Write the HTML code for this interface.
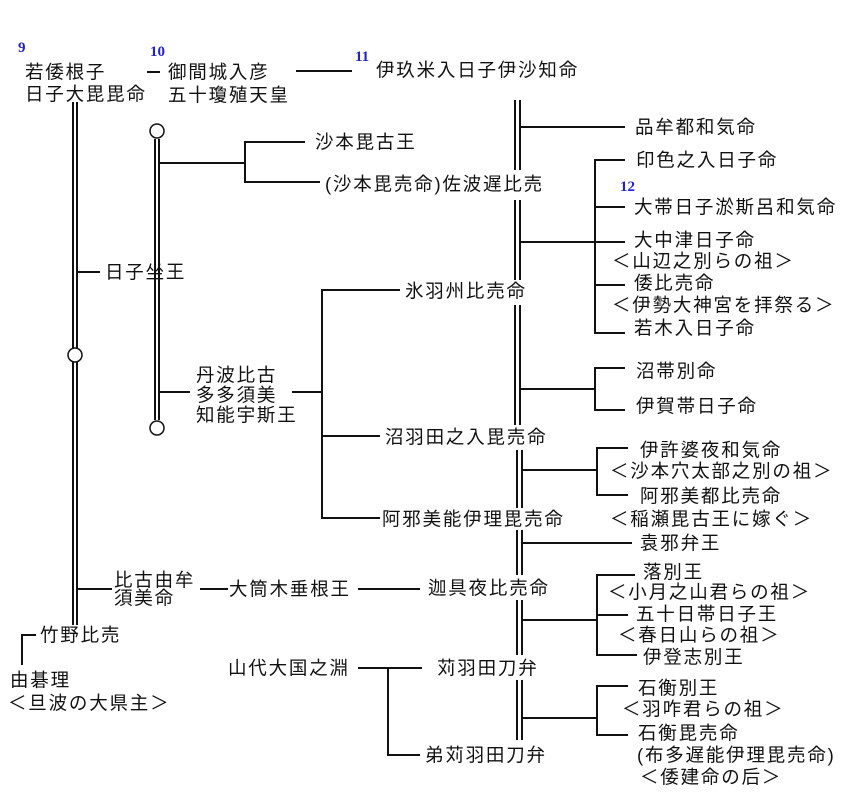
<!DOCTYPE html>
<html><head><meta charset="utf-8"><style>
html,body{margin:0;padding:0;background:#fff;}
svg{display:block}
text{font-family:"Liberation Sans","Noto Sans CJK JP",sans-serif;font-size:18.5px;fill:#111;dominant-baseline:central;letter-spacing:1.8px}
.n{font-family:"Liberation Serif",serif;font-size:15px;fill:#2222cc;font-weight:bold;letter-spacing:0}
line,polyline{stroke:#111;stroke-width:2;fill:none}
circle{stroke:#111;stroke-width:1.5;fill:#fff}
</style></head><body>
<svg width="867" height="804" viewBox="0 0 867 804">
<text class="n" x="18" y="48">9</text>
<text x="25" y="72">若倭根子</text>
<text x="25" y="94">日子大毘毘命</text>
<text class="n" x="150" y="52">10</text>
<line x1="147" y1="72" x2="160" y2="72"/>
<text x="168" y="72">御間城入彦</text>
<text x="168" y="95">五十瓊殖天皇</text>
<line x1="296" y1="71" x2="352" y2="71"/>
<text class="n" x="355" y="57">11</text>
<text x="376" y="70">伊玖米入日子伊沙知命</text>

<line x1="73" y1="102" x2="73" y2="348"/><line x1="77" y1="102" x2="77" y2="348"/>
<circle cx="75" cy="355" r="7"/>
<line x1="73" y1="362" x2="73" y2="625"/><line x1="77" y1="362" x2="77" y2="625"/>
<line x1="77" y1="272" x2="100" y2="272"/>
<text x="105" y="272">日子坐王</text>
<line x1="77" y1="589" x2="112" y2="589"/>
<text x="114" y="580">比古由牟</text>
<text x="114" y="598">須美命</text>
<line x1="200" y1="589" x2="228" y2="589"/>
<text x="229" y="589">大筒木垂根王</text>
<line x1="358" y1="589" x2="420" y2="589"/>
<text x="428" y="588">迦具夜比売命</text>

<polyline points="36,635 22,635 22,665"/>
<text x="40" y="635">竹野比売</text>
<text x="10" y="680">由碁理</text>
<text x="8" y="703">＜旦波の大県主＞</text>

<circle cx="157" cy="131" r="7"/>
<line x1="155" y1="139" x2="155" y2="420"/><line x1="159" y1="139" x2="159" y2="420"/>
<circle cx="157" cy="428" r="7"/>
<line x1="159" y1="163" x2="245" y2="163"/>
<polyline points="305,142 245,142 245,182 320,182"/>
<text x="315" y="142">沙本毘古王</text>
<text x="325" y="184">(沙本毘売命)佐波遅比売</text>
<line x1="159" y1="392" x2="190" y2="392"/>
<text x="196" y="375">丹波比古</text>
<text x="196" y="395">多多須美</text>
<text x="196" y="415">知能宇斯王</text>
<line x1="292" y1="392" x2="322" y2="392"/>
<polyline points="400,290 322,290 322,518 380,518"/>
<line x1="322" y1="436" x2="380" y2="436"/>
<text x="405" y="291">氷羽州比売命</text>
<text x="385" y="437">沼羽田之入毘売命</text>
<text x="382" y="519">阿邪美能伊理毘売命</text>

<g>
<line x1="515" y1="100" x2="515" y2="170"/><line x1="520" y1="100" x2="520" y2="170"/>
<line x1="515" y1="200" x2="515" y2="280"/><line x1="520" y1="200" x2="520" y2="280"/>
<line x1="515" y1="305" x2="515" y2="425"/><line x1="520" y1="305" x2="520" y2="425"/>
<line x1="517" y1="450" x2="517" y2="508"/><line x1="522" y1="450" x2="522" y2="508"/>
<line x1="517" y1="530" x2="517" y2="575"/><line x1="522" y1="530" x2="522" y2="575"/>
<line x1="517" y1="600" x2="517" y2="655"/><line x1="522" y1="600" x2="522" y2="655"/>
<line x1="517" y1="680" x2="517" y2="740"/><line x1="522" y1="680" x2="522" y2="740"/>
</g>
<line x1="520" y1="127" x2="625" y2="127"/>
<text x="635" y="127">品牟都和気命</text>
<line x1="520" y1="242" x2="595" y2="242"/>
<polyline points="625,160 595,160 595,333 625,333"/>
<line x1="595" y1="207" x2="625" y2="207"/>
<line x1="595" y1="242" x2="625" y2="242"/>
<line x1="595" y1="285" x2="625" y2="285"/>
<text x="636" y="160">印色之入日子命</text>
<text class="n" x="620" y="187">12</text>
<text x="634" y="207">大帯日子淤斯呂和気命</text>
<text x="634" y="240">大中津日子命</text>
<text x="612" y="261">＜山辺之別らの祖＞</text>
<text x="634" y="283">倭比売命</text>
<text x="612" y="305">＜伊勢大神宮を拝祭る＞</text>
<text x="634" y="328">若木入日子命</text>

<line x1="520" y1="389" x2="595" y2="389"/>
<polyline points="625,368 595,368 595,410 625,410"/>
<text x="636" y="371">沼帯別命</text>
<text x="636" y="406">伊賀帯日子命</text>

<line x1="522" y1="470" x2="597" y2="470"/>
<polyline points="628,448 597,448 597,495 628,495"/>
<text x="640" y="450">伊許婆夜和気命</text>
<text x="610" y="471">＜沙本穴太部之別の祖＞</text>
<text x="640" y="496">阿邪美都比売命</text>
<text x="610" y="519">＜稲瀬毘古王に嫁ぐ＞</text>

<line x1="522" y1="543" x2="632" y2="543"/>
<text x="640" y="543">袁邪弁王</text>

<line x1="522" y1="620" x2="597" y2="620"/>
<polyline points="635,575 597,575 597,655 637,655"/>
<line x1="597" y1="615" x2="628" y2="615"/>
<text x="643" y="572">落別王</text>
<text x="608" y="592">＜小月之山君らの祖＞</text>
<text x="636" y="614">五十日帯日子王</text>
<text x="618" y="635">＜春日山らの祖＞</text>
<text x="643" y="657">伊登志別王</text>

<line x1="522" y1="718" x2="597" y2="718"/>
<polyline points="628,686 597,686 597,735 628,735"/>
<text x="638" y="688">石衡別王</text>
<text x="622" y="709">＜羽咋君らの祖＞</text>
<text x="638" y="733">石衡毘売命</text>
<text x="637" y="755">(布多遅能伊理毘売命)</text>
<text x="640" y="777">＜倭建命の后＞</text>

<text x="228" y="668">山代大国之淵</text>
<line x1="358" y1="668" x2="422" y2="668"/>
<polyline points="388,668 388,755 420,755"/>
<text x="437" y="668">苅羽田刀弁</text>
<text x="425" y="755">弟苅羽田刀弁</text>
</svg>
</body></html>
